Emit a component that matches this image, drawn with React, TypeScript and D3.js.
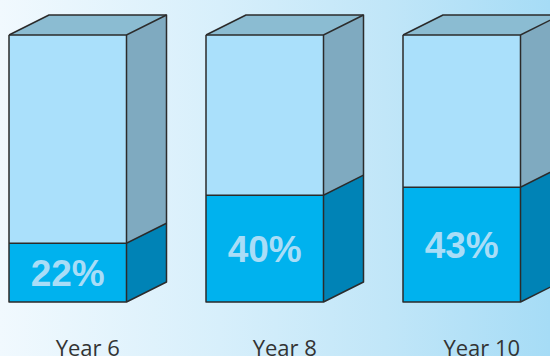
import React from "react";
import * as d3 from "d3";

const categories = ["Year 6", "Year 8", "Year 10"];
const values = [22, 40, 43];
const labels = ["22%", "40%", "43%"];

const W = 550;
const H = 356;
const DX = 40;
const DY = -20;

export default function App() {
  const x = d3.scalePoint<string>().domain(categories).range([9, 403]).padding(0);
  const y = d3.scaleLinear().domain([0, 100]).range([302, 35]);
  const bw = 117.5;
  const stroke = "#2b2b2b";
  const sw = 1.5;
  const poly = (pts: [number, number][]) => d3.line()(pts.concat([pts[0]])) as string;

  return (
    <svg width={W} height={H} style={{ position: "absolute", left: 0, top: 0 }}>
      <defs>
        <linearGradient id="bg" x1="0" x2="1" y1="0" y2="0">
          <stop offset="0" stopColor="#f1f9fe" />
          <stop offset="0.4" stopColor="#d7effb" />
          <stop offset="0.7" stopColor="#c1e6f8" />
          <stop offset="1" stopColor="#a6dcf6" />
        </linearGradient>
      </defs>
      <rect width={W} height={H} fill="url(#bg)" />
      {categories.map((c, i) => {
        const x0 = x(c) as number;
        const x1 = x0 + bw;
        const yTop = y(100);
        const yBot = y(0);
        const yv = y(values[i]);
        return (
          <g key={c}>
            <path d={poly([[x0, yTop], [x0 + DX, yTop + DY], [x1 + DX, yTop + DY], [x1, yTop]])} fill="#8bbcd2" />
            <path d={poly([[x1, yTop], [x1 + DX, yTop + DY], [x1 + DX, yv + DY], [x1, yv]])} fill="#7faac0" />
            <path d={poly([[x1, yv], [x1 + DX, yv + DY], [x1 + DX, yBot + DY], [x1, yBot]])} fill="#0083b6" />
            <rect x={x0} y={yTop} width={bw} height={yv - yTop} fill="#aae0fb" />
            <rect x={x0} y={yv} width={bw} height={yBot - yv} fill="#00b2ee" />
            <path
              d={poly([[x0, yTop], [x0 + DX, yTop + DY], [x1 + DX, yTop + DY], [x1 + DX, yBot + DY], [x1, yBot], [x0, yBot]])}
              fill="none"
              stroke={stroke}
              strokeWidth={sw}
              strokeLinejoin="round"
            />
            <path d={`M${x0},${yTop}L${x1},${yTop}L${x1 + DX},${yTop + DY}M${x1},${yTop}L${x1},${yBot}M${x0},${yv}L${x1},${yv}L${x1 + DX},${yv + DY}`} fill="none" stroke={stroke} strokeWidth={sw} />
            <text
              x={x0 + bw / 2}
              y={(yv + yBot) / 2}
              dy="0.36em"
              textAnchor="middle"
              fontFamily="'Liberation Sans', Arial, sans-serif"
              fontWeight="bold"
              fontSize={37}
              fill="#a9ddf7"
            >
              {labels[i]}
            </text>
            <text
              x={x0 + (bw + DX) / 2}
              y={356}
              textAnchor="middle"
              fontFamily="'Open Sans', sans-serif"
              fontSize={22}
              fill="#333"
            >
              {c}
            </text>
          </g>
        );
      })}
    </svg>
  );
}
